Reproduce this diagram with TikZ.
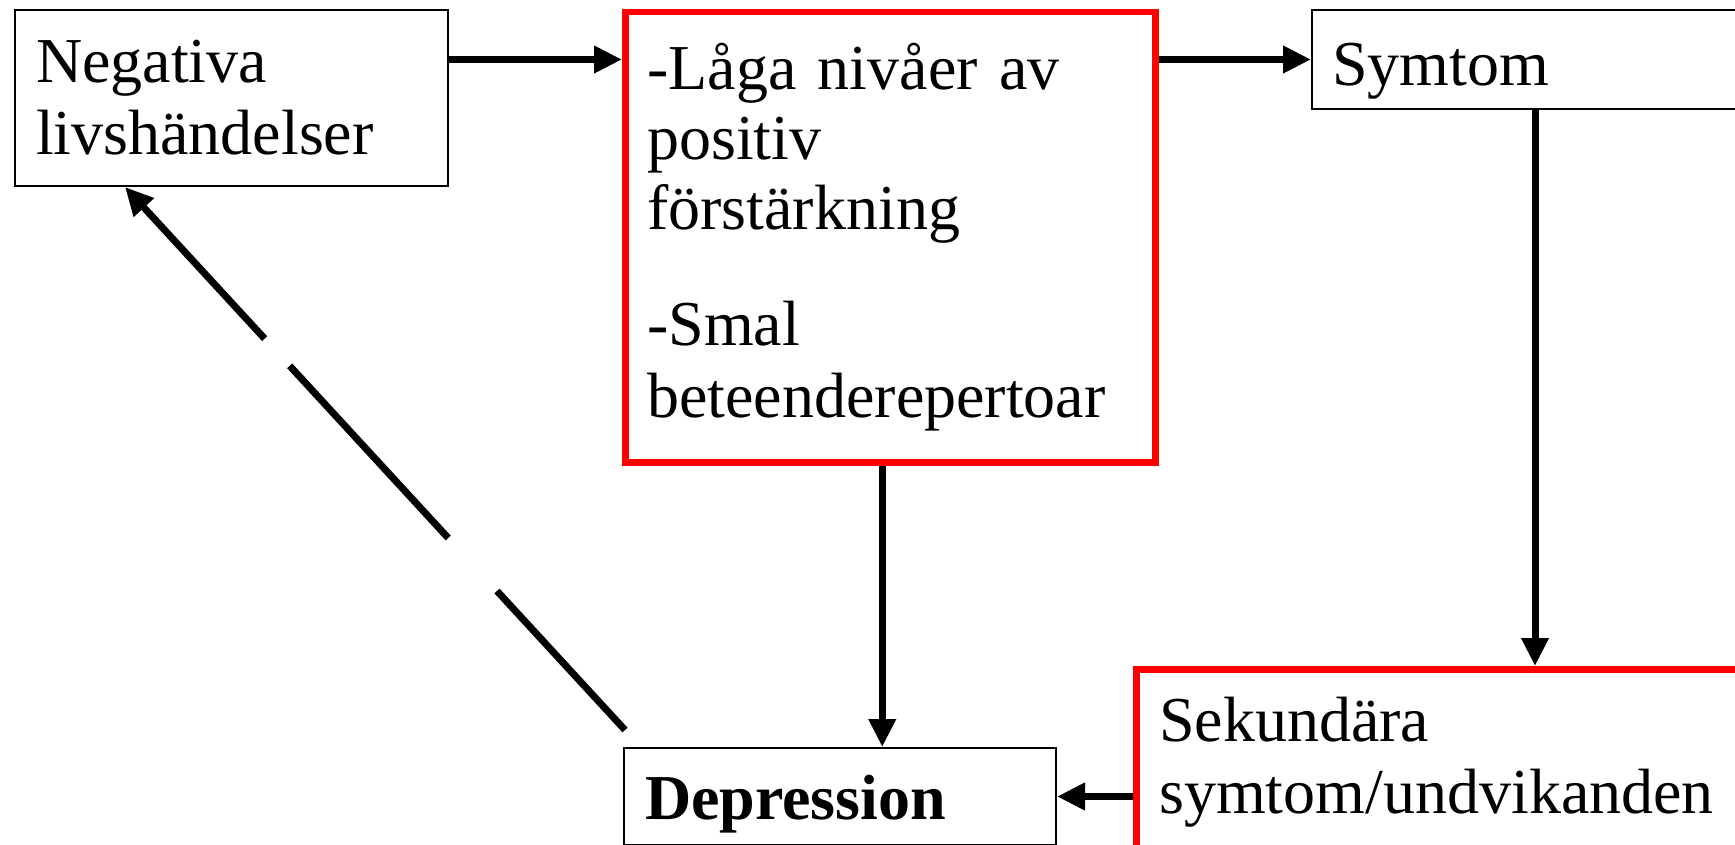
\documentclass[tikz,border=0pt]{standalone}
\usepackage{fontspec}
\setmainfont{Liberation Serif}
\usetikzlibrary{arrows.meta,calc}

\begin{document}
\begin{tikzpicture}[x=0.5pt,y=-0.5pt,
  box/.style={draw,line width=1pt,anchor=north west,align=left,inner ysep=0pt,
    font=\fontsize{32}{36}\selectfont},
  redbox/.style={box,draw=red,line width=3.25pt},
  arr/.style={line width=3.5pt,-{Triangle[length=14pt,width=13pt]}}]
\useasboundingbox (0,0) rectangle (1735,845);

\node[box,minimum height=88pt,inner xsep=10.5pt,text width=195.5pt] (neg) at (14,9) {Negativa\\livshändelser};
\node[redbox,minimum height=225pt,inner xsep=11pt,text width=243pt] (laga) at (622,9)
  {-Låga nivåer av\\[-1pt]positiv\\[-1pt]förstärkning\\[22pt]-Smal\\beteenderepertoar};
\node[box,minimum height=49.5pt,inner xsep=10pt,text width=204.5pt,text height=33pt] (sym) at (1311,9) {Symtom};
\node[redbox,minimum height=92.6pt,inner xsep=11.5pt,text width=290.5pt] (sek) at (1133,666) {Sekundära\\symtom/undvikanden};
\node[box,minimum height=48.5pt,inner xsep=10.5pt,text width=195pt,text height=30pt,font=\fontsize{32}{36}\selectfont\bfseries] (depr) at (623,747) {Depression};

\coordinate (symdown) at ($(sym.south west)+(224,0)$);
\coordinate (lagadown) at ($(laga.south)+(-8,0)$);
\coordinate (dstart) at ($(depr.north west)+(2,-17)$);
\coordinate (dend) at ($(neg.south west)+(111,0)$);

\draw[arr] (neg.east |- sym.west) -- (laga.west |- sym.west);
\draw[arr] (laga.east |- sym.west) -- (sym.west);
\draw[arr] (symdown) -- (symdown |- sek.north);
\draw[arr] (lagadown) -- (lagadown |- depr.north);
\draw[arr] (sek.west |- depr.east) -- (depr.east);
\draw[arr,dash pattern=on 94.5pt off 36pt on 117pt off 18.5pt on 200pt] (dstart) -- (dend);
\end{tikzpicture}
\end{document}
